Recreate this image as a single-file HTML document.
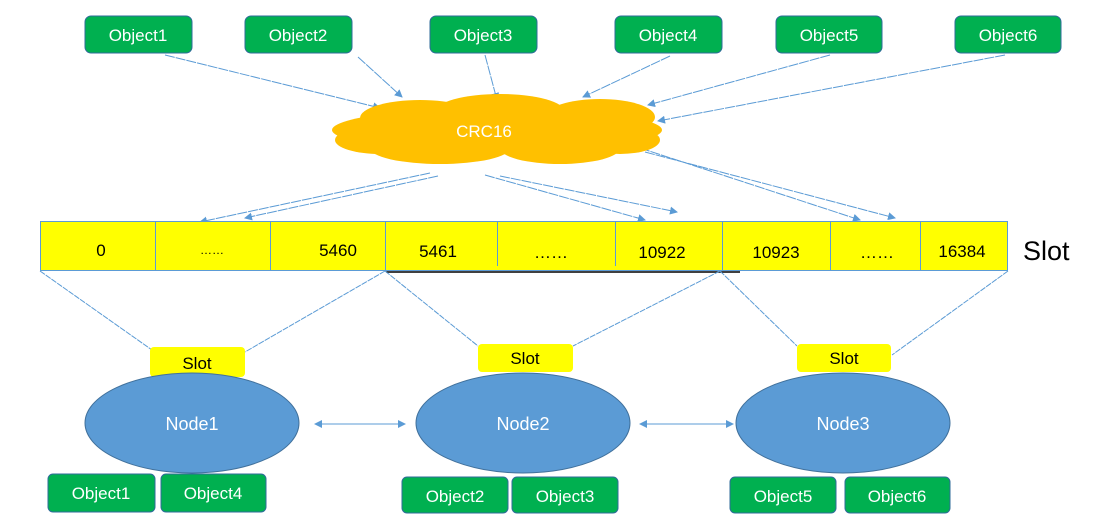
<!DOCTYPE html>
<html><head><meta charset="utf-8"><style>
body{margin:0;width:1105px;height:517px;background:#fff;overflow:hidden;font-family:"Liberation Sans",sans-serif}
</style></head><body>
<svg width="1105" height="517" viewBox="0 0 1105 517" xmlns="http://www.w3.org/2000/svg" font-family="Liberation Sans, sans-serif">
<defs><marker id="a" markerWidth="8" markerHeight="8" refX="7" refY="4" orient="auto" markerUnits="userSpaceOnUse"><path d="M0,0 L8,4 L0,8 z" fill="#5b9bd5"/></marker>
<marker id="b" markerWidth="8" markerHeight="8" refX="1" refY="4" orient="auto" markerUnits="userSpaceOnUse"><path d="M8,0 L0,4 L8,8 z" fill="#5b9bd5"/></marker></defs>
<g fill="#00b050" stroke="#2f6b9a" stroke-width="1">
<rect x="85" y="16" width="107" height="37" rx="6"/><rect x="245" y="16" width="107" height="37" rx="6"/>
<rect x="430" y="16" width="107" height="37" rx="6"/><rect x="615" y="16" width="107" height="37" rx="6"/>
<rect x="776" y="16" width="106" height="37" rx="6"/><rect x="955" y="16" width="106" height="37" rx="6"/>
<rect x="48" y="474" width="107" height="38" rx="5"/><rect x="161" y="474" width="105" height="38" rx="5"/>
<rect x="402" y="477" width="106" height="36" rx="5"/><rect x="512" y="477" width="106" height="36" rx="5"/>
<rect x="730" y="477" width="106" height="36" rx="5"/><rect x="845" y="477" width="105" height="36" rx="5"/>
</g>
<g fill="#fff" font-size="17" text-anchor="middle">
<text x="138" y="41">Object1</text><text x="298" y="41">Object2</text><text x="483" y="41">Object3</text>
<text x="668" y="41">Object4</text><text x="829" y="41">Object5</text><text x="1008" y="41">Object6</text>
<text x="101" y="499">Object1</text><text x="213" y="499">Object4</text><text x="455" y="502">Object2</text>
<text x="565" y="502">Object3</text><text x="783" y="502">Object5</text><text x="897" y="502">Object6</text>
</g>
<g stroke="#5b9bd5" stroke-width="1" fill="none" stroke-dasharray="10 1">
<line x1="165" y1="55" x2="380" y2="108" marker-end="url(#a)"/>
<line x1="358" y1="57" x2="402" y2="97" marker-end="url(#a)"/>
<line x1="485" y1="55" x2="497" y2="100" marker-end="url(#a)"/>
<line x1="670" y1="56" x2="583" y2="97" marker-end="url(#a)"/>
<line x1="830" y1="55" x2="648" y2="105" marker-end="url(#a)"/>
<line x1="1005" y1="55" x2="658" y2="121" marker-end="url(#a)"/>
<line x1="430" y1="173" x2="200" y2="222" marker-end="url(#a)"/>
<line x1="438" y1="176" x2="245" y2="218" marker-end="url(#a)"/>
<line x1="485" y1="175" x2="645" y2="220" marker-end="url(#a)"/>
<line x1="500" y1="176" x2="677" y2="212" marker-end="url(#a)"/>
<line x1="640" y1="148" x2="860" y2="220" marker-end="url(#a)"/>
<line x1="645" y1="152" x2="895" y2="218" marker-end="url(#a)"/>
</g>
<g fill="#ffc000">
<ellipse cx="497" cy="130" rx="165" ry="22"/>
<ellipse cx="420" cy="118" rx="60" ry="18"/><ellipse cx="500" cy="112" rx="65" ry="18"/>
<ellipse cx="600" cy="117" rx="55" ry="18"/><ellipse cx="440" cy="148" rx="70" ry="16"/>
<ellipse cx="560" cy="148" rx="60" ry="16"/><ellipse cx="380" cy="140" rx="45" ry="14"/>
<ellipse cx="620" cy="140" rx="40" ry="14"/>
</g>
<text x="484" y="137" fill="#fff" font-size="17" text-anchor="middle">CRC16</text>
<rect x="40.5" y="221.5" width="967" height="49" fill="#ffff00" stroke="#5b9bd5"/>
<g stroke="#5b9bd5"><line x1="155.5" y1="222" x2="155.5" y2="270"/><line x1="270.5" y1="222" x2="270.5" y2="270"/>
<line x1="385.5" y1="222" x2="385.5" y2="270"/><line x1="497.5" y1="222" x2="497.5" y2="266"/>
<line x1="615.5" y1="222" x2="615.5" y2="266"/><line x1="722.5" y1="222" x2="722.5" y2="270"/>
<line x1="830.5" y1="222" x2="830.5" y2="270"/><line x1="920.5" y1="222" x2="920.5" y2="270"/></g>
<line x1="386" y1="272" x2="740" y2="272" stroke="#000" stroke-width="1.5"/>
<g font-size="17" text-anchor="middle" fill="#000">
<text x="101" y="256">0</text><text x="212" y="254" font-size="12">……</text><text x="338" y="256">5460</text>
<text x="438" y="257">5461</text><text x="551" y="258">……</text><text x="662" y="258">10922</text>
<text x="776" y="258">10923</text><text x="877" y="258">……</text><text x="962" y="257">16384</text>
</g>
<text x="1023" y="260" font-size="27" fill="#000">Slot</text>
<g stroke="#5b9bd5" stroke-width="1" stroke-dasharray="6 1">
<line x1="40" y1="271" x2="152" y2="350"/><line x1="385" y1="271" x2="245" y2="352"/>
<line x1="385" y1="271" x2="478" y2="346"/><line x1="720" y1="271" x2="573" y2="346"/>
<line x1="720" y1="271" x2="797" y2="346"/><line x1="1008" y1="271" x2="892" y2="355"/>
</g>
<g fill="#ffff00"><rect x="150" y="347" width="95" height="30" rx="4"/><rect x="478" y="344" width="95" height="28" rx="4"/><rect x="797" y="344" width="94" height="28" rx="4"/></g>
<g font-size="17" text-anchor="middle" fill="#000"><text x="197" y="369">Slot</text><text x="525" y="364">Slot</text><text x="844" y="364">Slot</text></g>
<g fill="#5b9bd5" stroke="#41719c"><ellipse cx="192" cy="423" rx="107" ry="50"/><ellipse cx="523" cy="423" rx="107" ry="50"/><ellipse cx="843" cy="423" rx="107" ry="50"/></g>
<g fill="#fff" font-size="18" text-anchor="middle"><text x="192" y="430">Node1</text><text x="523" y="430">Node2</text><text x="843" y="430">Node3</text></g>
<g stroke="#5b9bd5"><line x1="315" y1="424" x2="405" y2="424" marker-start="url(#b)" marker-end="url(#a)"/>
<line x1="640" y1="424" x2="733" y2="424" marker-start="url(#b)" marker-end="url(#a)"/></g>
</svg>
</body></html>
